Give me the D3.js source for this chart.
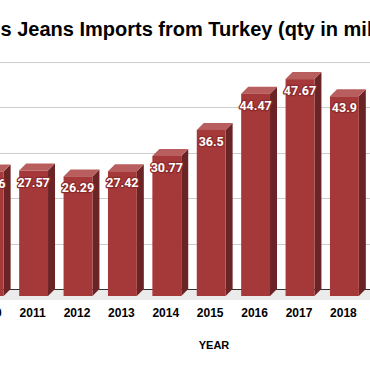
<!DOCTYPE html>
<html>
<head>
	<meta charset="utf-8">
	<title>Jeans imports</title>
	<script type="text/javascript" src="https://cdn.jsdelivr.net/npm/d3@7/dist/d3.min.js"></script>
	<style>
		body { margin: 0; background: #fff; overflow: hidden; }
		svg { display: block; }
	</style>
</head>
<body>
	<div id="chart"></div>

	<script type="text/javascript">

	/* data */
	var years = ["2010", "2011", "2012", "2013", "2014", "2015", "2016", "2017", "2018"];
	var qty = [27.36, 27.57, 26.29, 27.42, 30.77, 36.5, 44.47, 47.67, 43.9];
	var gridTicks = [0, 10, 20, 30, 40, 50];

	var W = 370, H = 371;
	var depth = 7; /* 3d offset of the bars */

	var svg = d3.select("#chart").append("svg")
		.attr("width", W)
		.attr("height", H);

	var x = d3.scaleBand()
		.domain(years)
		.range([-33, 366.6])
		.paddingInner(0.35)
		.paddingOuter(0.175);

	var y = d3.scaleLinear()
		.domain([0, 50])
		.range([289, 61.5]);

	/* title, the chart is cut off at both sides */
	svg.append("text")
		.attr("x", 0.5)
		.attr("y", 35.5)
		.style("font-family", "'Liberation Sans', Arial, sans-serif")
		.style("font-weight", "bold")
		.style("font-size", "20px")
		.style("fill", "#000")
		.text("s Jeans Imports from Turkey (qty in millions)");

	/* grid */
	svg.append("g").selectAll("line")
		.data(gridTicks.filter(function(d) { return d > 0; }))
		.enter().append("line")
		.attr("x1", 0)
		.attr("x2", W)
		.attr("y1", function(d) { return Math.round(y(d)) + 0.5; })
		.attr("y2", function(d) { return Math.round(y(d)) + 0.5; })
		.style("stroke", "#cccccc")
		.style("stroke-width", 1);

	/* floor */
	svg.append("rect")
		.attr("x", 0)
		.attr("y", y(0))
		.attr("width", W)
		.attr("height", 11)
		.style("fill", "#ebebeb");

	svg.append("line")
		.attr("x1", 0)
		.attr("x2", W)
		.attr("y1", Math.round(y(0)) + 0.5)
		.attr("y2", Math.round(y(0)) + 0.5)
		.style("stroke", "#333")
		.style("stroke-width", 1);

	var bars = svg.append("g").selectAll("g")
		.data(years.map(function(yr, i) { return { year: yr, v: qty[i] }; }))
		.enter().append("g");

	var bw = x.bandwidth();

	/* side face */
	bars.append("path")
		.attr("d", function(d) {
			var x0 = x(d.year) + bw, t = y(d.v);
			return "M" + x0 + "," + (t + depth) +
				"L" + (x0 + depth) + "," + t +
				"L" + (x0 + depth) + "," + y(0) +
				"L" + x0 + "," + (y(0) + depth) + "Z";
		})
		.style("fill", "#6b2426");

	/* top face */
	bars.append("path")
		.attr("d", function(d) {
			var x0 = x(d.year), t = y(d.v);
			return "M" + x0 + "," + (t + depth) +
				"L" + (x0 + depth) + "," + t +
				"L" + (x0 + bw + depth) + "," + t +
				"L" + (x0 + bw) + "," + (t + depth) + "Z";
		})
		.style("fill", "#b95e5e");

	/* front face */
	bars.append("rect")
		.attr("x", function(d) { return x(d.year); })
		.attr("y", function(d) { return y(d.v) + depth; })
		.attr("width", bw)
		.attr("height", function(d) { return y(0) - y(d.v); })
		.style("fill", "#a53838");

	/* value labels */
	bars.append("text")
		.attr("x", function(d) { return x(d.year) + bw / 2; })
		.attr("y", function(d) { return y(d.v) + depth + 16; })
		.attr("text-anchor", "middle")
		.style("font-family", "Roboto, sans-serif")
		.style("font-weight", "bold")
		.style("font-size", "12.5px")
		.style("fill", "#fff")
		.style("stroke", "#8c2a2c")
		.style("stroke-width", 2.5)
		.style("paint-order", "stroke")
		.style("stroke-linejoin", "round")
		.text(function(d) { return d.v; });

	/* x axis labels */
	svg.append("g").selectAll("text")
		.data(years)
		.enter().append("text")
		.attr("x", function(d) { return x(d) + bw / 2 - 1; })
		.attr("y", 317)
		.attr("text-anchor", "middle")
		.style("font-family", "'Liberation Sans', Arial, sans-serif")
		.style("font-weight", "bold")
		.style("font-size", "12px")
		.style("fill", "#000")
		.text(function(d) { return d; });

	svg.append("text")
		.attr("x", 214)
		.attr("y", 349)
		.attr("text-anchor", "middle")
		.style("font-family", "'Liberation Sans', Arial, sans-serif")
		.style("font-weight", "bold")
		.style("font-size", "11px")
		.style("fill", "#000")
		.text("YEAR");

	</script>
</body>
</html>
